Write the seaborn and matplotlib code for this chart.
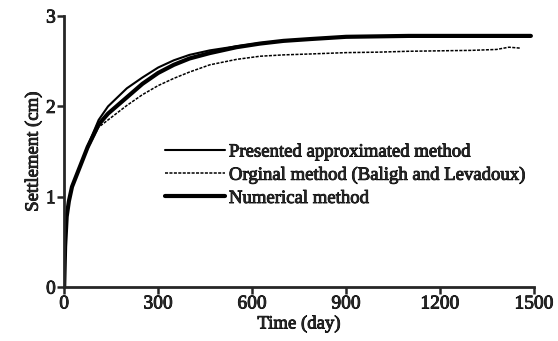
import numpy as np
import pandas as pd
import matplotlib
matplotlib.use("Agg")
import matplotlib.pyplot as plt
import matplotlib.patheffects as pe
import seaborn as sns

days = [0, 3, 8, 15, 25, 50, 75, 110, 140, 200, 250, 300, 350, 400, 465, 550, 625,
        700, 785, 900, 1000, 1100, 1200, 1300, 1400, 1490]
presented = [0, 0.45, 0.78, 0.95, 1.11, 1.33, 1.56, 1.85, 2.00, 2.20, 2.32, 2.43, 2.51,
             2.57, 2.62, 2.665, 2.70, 2.725, 2.745, 2.77, 2.775, 2.78, 2.78, 2.78, 2.78, 2.78]
numerical = [0, 0.45, 0.78, 0.95, 1.11, 1.33, 1.55, 1.80, 1.92, 2.10, 2.25, 2.37, 2.46,
             2.53, 2.59, 2.655, 2.695, 2.725, 2.745, 2.77, 2.775, 2.78, 2.78, 2.78, 2.78, 2.78]
days_orig = [0, 3, 8, 15, 25, 50, 75, 110, 140, 200, 250, 300, 350, 400, 465, 550, 625,
             700, 785, 900, 1000, 1100, 1200, 1300, 1380, 1420, 1455]
original = [0, 0.45, 0.78, 0.95, 1.10, 1.32, 1.53, 1.77, 1.85, 2.01, 2.13, 2.23, 2.31,
            2.38, 2.46, 2.52, 2.555, 2.57, 2.58, 2.595, 2.60, 2.61, 2.615, 2.62, 2.63,
            2.655, 2.645]

labels = ["Presented approximated method",
          "Orginal method (Baligh and Levadoux)",
          "Numerical method"]
xticks = [0, 300, 600, 900, 1200, 1500]
yticks = [0, 1, 2, 3]

sns.set_style("ticks")
plt.rcParams['font.family'] = ['Liberation Serif', 'DejaVu Serif']

fig = plt.figure(figsize=(5.58, 3.41), dpi=100)
ax = fig.add_axes([0.115, 0.158, 0.842, 0.795])

sns.lineplot(x=days, y=presented, ax=ax, color="black", lw=1.5, label=labels[0])
sns.lineplot(x=days_orig, y=original, ax=ax, color="black", lw=1.1,
             linestyle=(0, (2.0, 0.9)), label=labels[1])
sns.lineplot(x=days, y=numerical, ax=ax, color="black", lw=3.0, label=labels[2])

thick = [pe.withStroke(linewidth=0.6, foreground="black")]

ax.set_xlim(0, 1500)
ax.set_ylim(0, 3)
ax.set_xticks(xticks)
ax.set_yticks(yticks)
ax.set_xticklabels([str(t) for t in xticks], fontsize=14, path_effects=thick)
ax.set_yticklabels([str(t) for t in yticks], fontsize=14, path_effects=thick)
ax.set_xlabel("Time (day)", fontsize=13.5, labelpad=2, path_effects=thick)
ax.set_ylabel("Settlement (cm)", fontsize=13.5, labelpad=3, path_effects=thick)
sns.despine(ax=ax)
for s in ["left", "bottom"]:
    ax.spines[s].set_linewidth(2.0)
ax.tick_params(width=1.8, length=5, direction="out", pad=1)

leg = ax.legend(loc="upper left", bbox_to_anchor=(0.215, 0.53), frameon=False,
                fontsize=13.5, handlelength=3.2, handletextpad=0.2,
                labelspacing=0.32, borderpad=0, borderaxespad=0)
for t in leg.get_texts():
    t.set_path_effects(thick)

fig.savefig("out.png", dpi=100)
